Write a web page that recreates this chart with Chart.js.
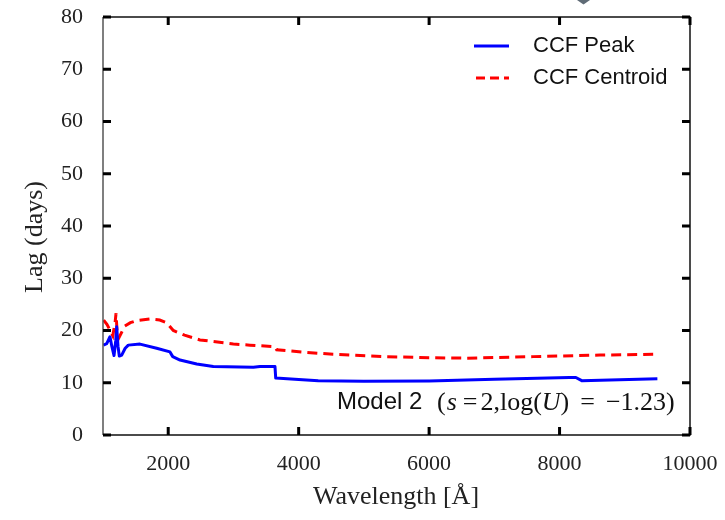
<!DOCTYPE html>
<html>
<head>
<meta charset="utf-8">
<script src="https://cdn.jsdelivr.net/npm/chart.js@4.4.1/dist/chart.umd.min.js"></script>
<style>
  html, body { margin: 0; padding: 0; background: #fff; }
  #lag_chart { display: block; }
</style>
</head>
<body>
<canvas id="lag_chart" width="725" height="520"></canvas>
<script>
// CCF Peak lag vs wavelength
let peak_wave = [1005, 1057, 1107, 1135, 1169, 1195, 1210, 1230, 1250, 1287, 1340, 1388, 1567, 1823, 2027, 2069, 2181, 2437, 2691, 3305, 3407, 3637, 3648, 4000, 4300, 5000, 6000, 7000, 8150, 8250, 8340, 9500];
let peak_lag  = [17.2, 17.5, 18.8, 17.0, 15.2, 18.0, 20.7, 17.0, 15.1, 15.3, 16.6, 17.2, 17.4, 16.6, 15.9, 15.0, 14.35, 13.6, 13.1, 12.95, 13.1, 13.1, 10.9, 10.6, 10.4, 10.3, 10.35, 10.65, 11.0, 11.0, 10.4, 10.75];

// CCF Centroid lag vs wavelength
let cent_wave = [1010, 1060, 1110, 1150, 1185, 1200, 1215, 1240, 1280, 1330, 1420, 1520, 1720, 1870, 1976, 2078, 2250, 2487, 2998, 3254, 3637, 3663, 4123, 4527, 5298, 6000, 6576, 7596, 8620, 9500];
let cent_lag  = [22.0, 21.2, 20.0, 19.0, 21.5, 23.3, 20.0, 18.5, 19.5, 20.8, 21.5, 21.9, 22.2, 22.0, 21.5, 20.0, 19.1, 18.2, 17.4, 17.2, 16.9, 16.3, 15.8, 15.45, 15.0, 14.8, 14.7, 15.0, 15.3, 15.45];

let x_ticks = [2000, 4000, 6000, 8000, 10000];
let y_ticks = [0, 10, 20, 30, 40, 50, 60, 70, 80];

function toPoints(xs, ys) {
    return xs.map((v, i) => ({ x: v, y: ys[i] }));
}

// keep the plot box where the reference has it
function fixBox(scale) {
    scale.paddingTop = 0;
    scale.paddingBottom = 0;
    scale.paddingLeft = 0;
    scale.paddingRight = 0;
}

// frame, inward ticks on all four sides, titles, legend, note
const decorations = {
    id: 'decorations',
    afterDatasetsDraw(chart) {
        const { ctx, chartArea: a, scales: { x, y } } = chart;
        ctx.save();

        ctx.lineWidth = 1.5;
        ctx.strokeStyle = '#111';
        ctx.beginPath();
        ctx.moveTo(a.left, a.bottom);
        ctx.lineTo(a.right, a.bottom);
        ctx.lineTo(a.right, a.top);
        ctx.lineTo(a.left, a.top);
        ctx.stroke();
        ctx.strokeStyle = '#555';
        ctx.beginPath();
        ctx.moveTo(a.left, a.top);
        ctx.lineTo(a.left, a.bottom);
        ctx.stroke();

        ctx.strokeStyle = '#000';
        ctx.lineWidth = 3;
        ctx.beginPath();
        x_ticks.forEach(v => {
            const px = x.getPixelForValue(v);
            ctx.moveTo(px, a.bottom); ctx.lineTo(px, a.bottom - 8);
            ctx.moveTo(px, a.top); ctx.lineTo(px, a.top + 8);
        });
        y_ticks.forEach(v => {
            const py = y.getPixelForValue(v);
            ctx.moveTo(a.left, py); ctx.lineTo(a.left + 8, py);
            ctx.moveTo(a.right, py); ctx.lineTo(a.right - 8, py);
        });
        ctx.stroke();

        // axis titles
        ctx.fillStyle = '#222';
        ctx.font = '26px "Liberation Serif"';
        ctx.textAlign = 'center';
        ctx.textBaseline = 'middle';
        ctx.fillText('Wavelength [Å]', 396, 497);
        ctx.save();
        ctx.translate(35, 237);
        ctx.rotate(-Math.PI / 2);
        ctx.fillText('Lag (days)', 0, 0);
        ctx.restore();

        // legend
        ctx.lineWidth = 3;
        ctx.strokeStyle = '#0000ff';
        ctx.beginPath(); ctx.moveTo(474, 46); ctx.lineTo(509, 46); ctx.stroke();
        ctx.strokeStyle = '#ff0000';
        ctx.setLineDash([9, 5]);
        ctx.beginPath(); ctx.moveTo(476, 78); ctx.lineTo(509, 78); ctx.stroke();
        ctx.setLineDash([]);
        ctx.fillStyle = '#111';
        ctx.font = '22px "Liberation Sans"';
        ctx.textAlign = 'left';
        ctx.fillText('CCF Peak', 533, 46);
        ctx.fillText('CCF Centroid', 533, 78);

        // model note
        ctx.font = '24px "Liberation Sans"';
        ctx.fillText('Model 2', 337, 402);
        let cx = 437;
        const parts = [
            ['(', false, 1], ['s', true, 6], ['=', false, 3], ['2,log(', false, 0],
            ['U', true, 0], [')', false, 11], ['=', false, 11], ['−1.23)', false, 0]
        ];
        parts.forEach(p => {
            ctx.font = (p[1] ? 'italic ' : '') + '26px "Liberation Serif"';
            ctx.fillText(p[0], cx, 403);
            cx += ctx.measureText(p[0]).width + p[2];
        });

        ctx.restore();
    },
    afterDraw(chart) {
        const ctx = chart.ctx;
        ctx.save();
        ctx.fillStyle = '#5f6b76';
        ctx.beginPath();
        ctx.moveTo(577, 0);
        ctx.lineTo(590, 0);
        ctx.lineTo(583.5, 4.5);
        ctx.closePath();
        ctx.fill();
        ctx.restore();
    }
};

let ctx = document.getElementById('lag_chart');

let lag_chart = new Chart(ctx, {
    type: 'line',
    data: {
        datasets: [
            {
                label: 'CCF Peak',
                data: toPoints(peak_wave, peak_lag),
                borderColor: '#0000ff',
                borderWidth: 3,
                borderJoinStyle: 'round',
                pointRadius: 0,
                tension: 0
            },
            {
                label: 'CCF Centroid',
                data: toPoints(cent_wave, cent_lag),
                borderColor: '#ff0000',
                borderWidth: 3,
                borderDash: [10, 6],
                pointRadius: 0,
                tension: 0
            }
        ]
    },
    options: {
        responsive: false,
        animation: false,
        layout: {
            padding: { top: 17, right: 35, left: 0, bottom: 0 }
        },
        scales: {
            x: {
                type: 'linear',
                min: 1000,
                max: 10000,
                afterBuildTicks: scale => { scale.ticks = x_ticks.map(v => ({ value: v })); },
                afterFit: scale => { scale.height = 85; fixBox(scale); },
                grid: { display: false, drawTicks: false },
                border: { display: false },
                ticks: {
                    padding: 16,
                    color: '#222',
                    maxRotation: 0,
                    callback: v => String(v),
                    font: { family: 'Liberation Serif', size: 22 }
                }
            },
            y: {
                min: 0,
                max: 80,
                afterBuildTicks: scale => { scale.ticks = y_ticks.map(v => ({ value: v })); },
                afterFit: scale => { scale.width = 103; fixBox(scale); },
                grid: { display: false, drawTicks: false },
                border: { display: false },
                ticks: {
                    padding: 20,
                    color: '#222',
                    callback: v => String(v),
                    font: { family: 'Liberation Serif', size: 22 }
                }
            }
        },
        plugins: {
            legend: { display: false },
            tooltip: { enabled: false }
        }
    },
    plugins: [decorations]
});
</script>
</body>
</html>
